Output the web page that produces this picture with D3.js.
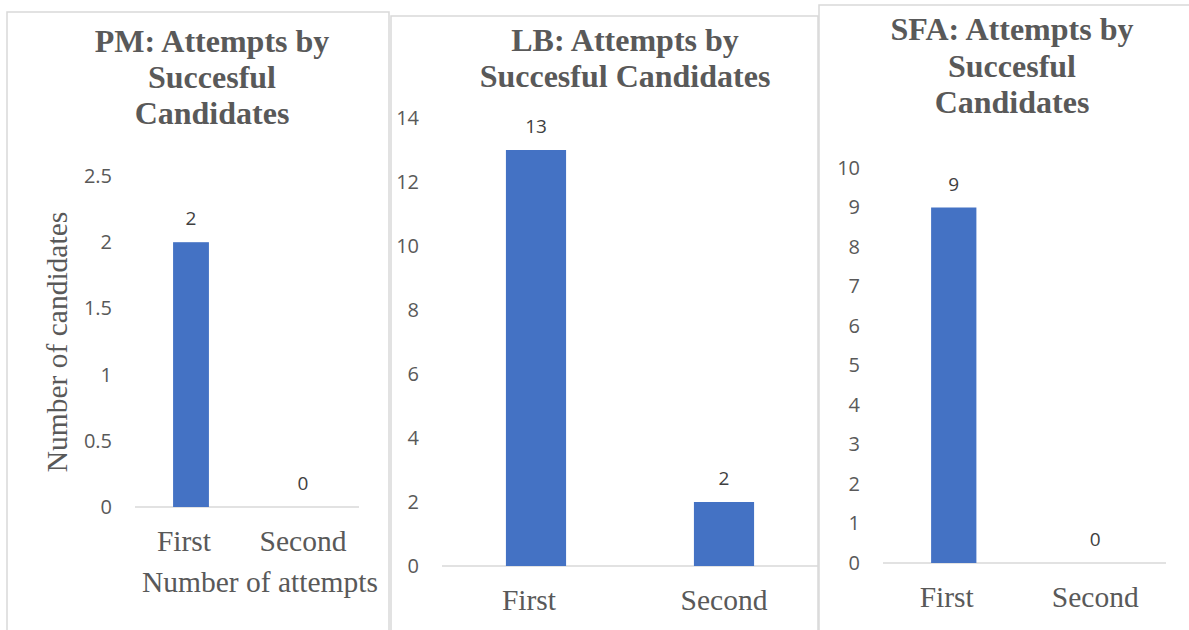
<!DOCTYPE html>
<html>
<head>
<meta charset="utf-8">
<script src="https://cdn.jsdelivr.net/npm/d3@7"></script>
<style>
  html, body { margin: 0; padding: 0; background: #fff; }
  svg { display: block; }
  .serif { font-family: 'Liberation Serif', 'Times New Roman', Tinos, 'DejaVu Serif', serif; }
  .sans { font-family: 'Open Sans', 'Noto Sans', sans-serif; }
</style>
</head>
<body>
<div id="chart"></div>
<script>
const WIDTH = 1189;
const HEIGHT = 630;
const BAR_COLOR = '#4472c4';
const GRID_COLOR = '#d9d9d9';
const TEXT_COLOR = '#595959';
const LABEL_COLOR = '#404040';
// the "First" labels sit a little left of their bars in the original
const CAT_SHIFT = [-7, 0];

// data
const categories = ['First', 'Second'];

const pmTitle = ['PM: Attempts by', 'Succesful', 'Candidates'];
const pmValues = [2, 0];
const pmTicks = [0, 0.5, 1, 1.5, 2, 2.5];

const lbTitle = ['LB: Attempts by', 'Succesful Candidates'];
const lbValues = [13, 2];
const lbTicks = [0, 2, 4, 6, 8, 10, 12, 14];

const sfaTitle = ['SFA: Attempts by', 'Succesful', 'Candidates'];
const sfaValues = [9, 0];
const sfaTicks = [0, 1, 2, 3, 4, 5, 6, 7, 8, 9, 10];

const yTitle = 'Number of candidates';
const xTitle = 'Number of attempts';

class BarPanel {
  svg = null;
  g = null;
  values = [];
  ticks = [];
  title = [];
  box = {};
  plot = {};
  constructor(svg) { this.svg = svg; }
  frame(box) { this.box = box; return this; }
  area(plot) { this.plot = plot; return this; }
  data(values, ticks) { this.values = values; this.ticks = ticks; return this; }
  heading(lines, cx, baselines) { this.title = lines; this.titleX = cx; this.titleY = baselines; return this; }

  draw() {
    const p = this.plot;
    this.g = this.svg.append('g');

    // panel frame
    this.g.append('rect')
      .attr('x', this.box.x).attr('y', this.box.y)
      .attr('width', this.box.w).attr('height', this.box.h)
      .attr('fill', 'none')
      .attr('stroke', GRID_COLOR)
      .attr('stroke-width', 1.5);

    // title
    this.g.append('g').selectAll('text')
      .data(this.title)
      .join('text')
      .attr('class', 'serif')
      .attr('x', this.titleX)
      .attr('y', (d, i) => this.titleY[i])
      .attr('text-anchor', 'middle')
      .style('font-weight', 'bold')
      .style('font-size', '32px')
      .attr('fill', TEXT_COLOR)
      .text(d => d);

    const x = d3.scaleBand()
      .domain(categories)
      .range([p.left, p.right])
      .paddingInner(0.68)
      .paddingOuter(0.34);

    const y = d3.scaleLinear()
      .domain([0, d3.max(this.ticks)])
      .range([p.bottom, p.top]);

    // y axis, labels only
    const yAxis = this.g.append('g')
      .attr('transform', `translate(${p.left},0)`)
      .call(d3.axisLeft(y).tickValues(this.ticks).tickSize(0).tickPadding(23).tickFormat(d3.format('')));
    yAxis.select('.domain').remove();
    yAxis.attr('font-family', null).attr('font-size', null);
    yAxis.selectAll('text')
      .attr('class', 'sans')
      .style('font-size', '20px')
      .attr('fill', TEXT_COLOR);

    // baseline
    this.g.append('line')
      .attr('x1', p.left).attr('x2', p.right)
      .attr('y1', y(0)).attr('y2', y(0))
      .attr('stroke', GRID_COLOR)
      .attr('stroke-width', 1.5);

    this.g.selectAll('rect.bar')
      .data(this.values)
      .join('rect')
      .attr('class', 'bar')
      .attr('x', (d, i) => x(categories[i]))
      .attr('width', x.bandwidth())
      .attr('y', d => y(d))
      .attr('height', d => y(0) - y(d))
      .attr('fill', BAR_COLOR);

    this.g.selectAll('text.value')
      .data(this.values)
      .join('text')
      .attr('class', 'value sans')
      .attr('x', (d, i) => x(categories[i]) + x.bandwidth() / 2)
      .attr('y', d => y(d) - 17)
      .attr('text-anchor', 'middle')
      .style('font-size', '19px')
      .attr('fill', LABEL_COLOR)
      .text(d => d);

    // category labels
    this.g.selectAll('text.cat')
      .data(categories)
      .join('text')
      .attr('class', 'cat serif')
      .attr('x', (d, i) => x(d) + x.bandwidth() / 2 + CAT_SHIFT[i])
      .attr('y', y(0) + 44)
      .attr('text-anchor', 'middle')
      .style('font-size', '29.5px')
      .attr('fill', TEXT_COLOR)
      .text(d => d);

    return this;
  }

  axisTitles(xt, xPos, yt, yPos) {
    this.g.append('text')
      .attr('class', 'serif')
      .attr('x', xPos[0]).attr('y', xPos[1])
      .attr('text-anchor', 'middle')
      .style('font-size', '29.5px')
      .attr('fill', TEXT_COLOR)
      .text(xt);
    this.g.append('text')
      .attr('class', 'serif')
      .attr('transform', `translate(${yPos[0]},${yPos[1]}) rotate(-90)`)
      .attr('text-anchor', 'middle')
      .style('font-size', '29.5px')
      .attr('fill', TEXT_COLOR)
      .text(yt);
    return this;
  }
}

const svg = d3.select('#chart')
  .append('svg')
  .attr('width', WIDTH)
  .attr('height', HEIGHT);

new BarPanel(svg)
  .frame({ x: 7, y: 12, w: 382, h: 640 })
  .area({ left: 135, right: 359, top: 176, bottom: 507 })
  .data(pmValues, pmTicks)
  .heading(pmTitle, 212, [52, 88, 124])
  .draw()
  .axisTitles(xTitle, [260, 592], yTitle, [67, 342]);

new BarPanel(svg)
  .frame({ x: 391, y: 16, w: 427, h: 640 })
  .area({ left: 442, right: 818, top: 118, bottom: 566 })
  .data(lbValues, lbTicks)
  .heading(lbTitle, 625, [51, 87])
  .draw();

new BarPanel(svg)
  .frame({ x: 819, y: 5, w: 400, h: 640 })
  .area({ left: 883, right: 1166, top: 168, bottom: 563 })
  .data(sfaValues, sfaTicks)
  .heading(sfaTitle, 1012, [40, 77, 113])
  .draw();
</script>
</body>
</html>
